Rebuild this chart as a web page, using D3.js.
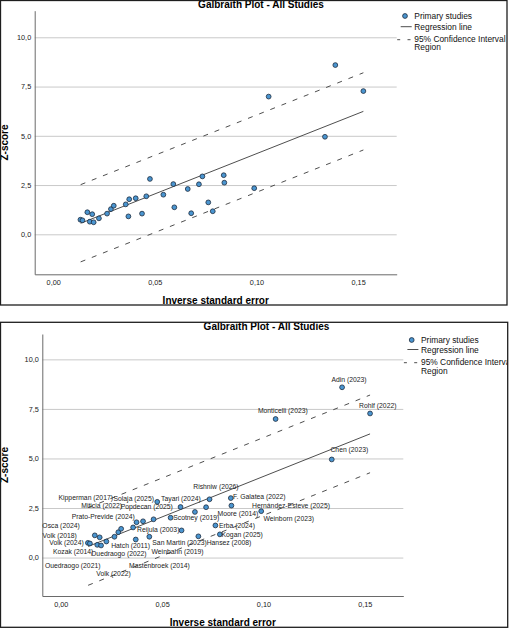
<!DOCTYPE html>
<html>
<head>
<meta charset="utf-8">
<script src="https://cdn.jsdelivr.net/npm/d3@7"></script>
<style>
  body { margin: 0; background: #fff; }
  svg text { font-family: "Liberation Sans", Arial, sans-serif; }
</style>
</head>
<body>
<div id="chart"></div>
<script>
// study names (labels in the lower panel)
var studies = [
  'Volk (2024)', 'Kozak (2014)', 'Volk (2018)', 'Ouedraogo (2021)', 'Osca (2024)',
  'Ouedraogo (2022)', 'Volk (2022)', 'Hatch (2011)', 'Prato-Previde (2024)', 'Miticia (2022)',
  'Reijula (2003)', 'Mastenbroek (2014)', 'Kipperman (2017)', '', 'San Martin (2023)',
  '', 'Solaja (2025)', 'Scotney (2019)', 'Popdecan (2025)', 'Weinbahn (2019)',
  'Moore (2014)', 'Hansez (2008)', 'Tayari (2024)', 'Rishniw (2026)', 'Erba (2024)',
  'Kogan (2025)', 'F. Galatea (2022)', 'Hernández-Esteve (2025)', 'Weinborn (2023)', 'Monticelli (2023)',
  'Chen (2023)', 'Adin (2023)', 'Rohlf (2022)'
];
// inverse standard error (x)
var invSE = [
  0.0134, 0.0144, 0.0168, 0.0180, 0.0192,
  0.0199, 0.0225, 0.0265, 0.0284, 0.0298,
  0.0357, 0.0370, 0.0374, 0.0406, 0.0437,
  0.0458, 0.0476, 0.0542, 0.0591, 0.0596,
  0.0662, 0.0679, 0.0717, 0.0734, 0.0763,
  0.0785, 0.0839, 0.0842, 0.0989, 0.1060,
  0.1337, 0.1388, 0.1526
];
// z-score (y)
var zScore = [
  0.74, 0.71, 1.12, 0.64, 1.02,
  0.61, 0.81, 1.05, 1.28, 1.45,
  1.52, 0.91, 1.78, 1.83, 1.05,
  1.93, 2.81, 2.01, 2.55, 1.37,
  2.30, 1.07, 2.54, 2.94, 1.62,
  1.17, 3.00, 2.62, 2.34, 6.99,
  4.95, 8.59, 7.27
];

// regression line and 95% CI limits at both ends of the data range
var lineX = [0.0135, 0.1526];
var regZ = [0.56, 6.24];
var upperZ = [2.52, 8.20];
var lowerZ = [-1.40, 4.28];

var xTicks = [0, 0.05, 0.10, 0.15];
var yTicks = [0, 2.5, 5, 7.5, 10];
var legendText = ['Primary studies', 'Regression line', '95% Confidence Interval', 'Region'];
var chartTitle = 'Galbraith Plot - All Studies';
var xTitle = 'Inverse standard error';
var yTitle = 'Z-score';

// where each label sits relative to its point (px), lower panel only
var labelOffset = [
  [-38.6, 0], [-37, 8.4], [-52.3, 0], [-52.3, 20.7], [-57.3, -11.7],
  [-10, 8.3], [-10, 32], [-3.3, 9.3], [-46.6, -15.7], [-39.9, -23],
  [4, 2], [-6.7, 25.7], [-78, -24.4], [0, 0], [3, 5.7],
  [0, 0], [-43.7, -3.4], [2.6, 0.3], [-59.8, 0], [-30, 21],
  [22.6, 1.6], [8.3, 6], [-45, -9], [-16.3, -12.7], [3.6, 0],
  [1.7, 0], [2.3, -1.6], [20.7, 0.3], [2.3, 7.3], [-17.7, -8.3],
  [-1.3, -10], [-10.6, -7.3], [-11, -8.3]
];

var xDomain = [-0.0091, 0.1690];

var locale = d3.formatLocale({decimal: ',', thousands: '.', grouping: [3], currency: ['', '']});
var fmtX = locale.format('.2f');
var fmtY = locale.format('.1f');

var svg = d3.select('#chart').append('svg')
    .attr('width', 510)
    .attr('height', 628);

var panels = [
  {id: 'top', box: [0.5, 0.5, 506.5, 304.5],
   plot: {l: 34.7, r: 396.7, t: 10.7, b: 274.3}, yDom: [-2.03, 11.35],
   title: [261, 7.5], yT: [7.6, 142.5], xT: [215.7, 304],
   legX: 414.3, legY: [16, 26.7, 38.7, 47.3], labels: false},
  {id: 'bottom', box: [0.5, 322.3, 507.2, 305],
   plot: {l: 42.3, r: 403.3, t: 334, b: 596}, yDom: [-1.94, 11.28],
   title: [266.5, 330.3], yT: [7.6, 465], xT: [222.8, 626.2],
   legX: 421, legY: [340, 349.5, 361.7, 371], labels: true}
];

panels.forEach(drawPanel);

function drawPanel(p) {
  var clipId = 'clip-' + p.id;
  svg.append('clipPath').attr('id', clipId)
    .append('rect')
    .attr('x', p.box[0]).attr('y', p.box[1])
    .attr('width', p.box[2]).attr('height', p.box[3]);

  var g = svg.append('g').attr('clip-path', 'url(#' + clipId + ')');

  var x = d3.scaleLinear().domain(xDomain).range([p.plot.l, p.plot.r]);
  var y = d3.scaleLinear().domain(p.yDom).range([p.plot.b, p.plot.t]);

  //horizontal gridlines
  g.append('g')
    .attr('transform', 'translate(' + p.plot.l + ',0)')
    .call(d3.axisRight(y).tickValues(yTicks).tickSize(p.plot.r - p.plot.l).tickFormat(''))
    .call(function(s) {
      s.select('.domain').remove();
      s.selectAll('line').attr('stroke', '#c9c9c9').attr('stroke-width', 1);
    });

  //y axis
  g.append('g')
    .attr('transform', 'translate(' + p.plot.l + ',0)')
    .call(d3.axisLeft(y).tickValues(yTicks).tickSize(0).tickPadding(3.5).tickFormat(fmtY))
    .call(styleAxis);

  //x axis
  g.append('g')
    .attr('transform', 'translate(0,' + p.plot.b + ')')
    .call(d3.axisBottom(x).tickValues(xTicks).tickSize(0).tickPadding(5.4).tickFormat(fmtX))
    .call(styleAxis);

  //CI limits and regression line
  var line = d3.line()
    .x(function(d) { return x(d[0]); })
    .y(function(d) { return y(d[1]); });

  [upperZ, lowerZ].forEach(function(ci) {
    g.append('path')
      .datum(d3.zip(lineX, ci))
      .attr('d', line)
      .attr('fill', 'none')
      .attr('stroke', '#3a3a3a')
      .attr('stroke-width', 0.9)
      .attr('stroke-dasharray', '5,7');
  });

  g.append('path')
    .datum(d3.zip(lineX, regZ))
    .attr('d', line)
    .attr('fill', 'none')
    .attr('stroke', '#3a3a3a')
    .attr('stroke-width', 0.9);

  //points
  var pts = d3.zip(invSE, zScore, studies, labelOffset);
  g.selectAll('circle.pt').data(pts).enter()
    .append('circle')
    .attr('class', 'pt')
    .attr('cx', function(d) { return x(d[0]); })
    .attr('cy', function(d) { return y(d[1]); })
    .attr('r', 2.4)
    .attr('fill', '#4a95d0')
    .attr('stroke', '#1c2b3d')
    .attr('stroke-width', 0.8);

  //study labels
  if (p.labels) {
    g.selectAll('text.lab').data(pts.filter(function(d) { return d[2] !== ''; })).enter()
      .append('text')
      .attr('class', 'lab')
      .attr('x', function(d) { return x(d[0]) + d[3][0]; })
      .attr('y', function(d) { return y(d[1]) + d[3][1] + 2.4; })
      .attr('font-size', 6.8)
      .attr('fill', '#222')
      .text(function(d) { return d[2]; });
  }

  //titles
  g.append('text')
    .attr('x', p.title[0]).attr('y', p.title[1])
    .attr('text-anchor', 'middle')
    .attr('font-size', 10).attr('font-weight', 'bold')
    .text(chartTitle);

  g.append('text')
    .attr('transform', 'translate(' + p.yT[0] + ',' + p.yT[1] + ')rotate(-90)')
    .attr('text-anchor', 'middle')
    .attr('font-size', 10).attr('font-weight', 'bold')
    .text(yTitle);

  g.append('text')
    .attr('x', p.xT[0]).attr('y', p.xT[1])
    .attr('text-anchor', 'middle')
    .attr('font-size', 10).attr('font-weight', 'bold')
    .text(xTitle);

  //legend
  var lx = p.legX;
  g.append('circle')
    .attr('cx', lx - 9.3).attr('cy', p.legY[0]).attr('r', 2.4)
    .attr('fill', '#4a95d0').attr('stroke', '#1c2b3d').attr('stroke-width', 0.8);
  g.append('line')
    .attr('x1', lx - 13.6).attr('x2', lx - 2.6)
    .attr('y1', p.legY[1]).attr('y2', p.legY[1])
    .attr('stroke', '#3a3a3a').attr('stroke-width', 0.9);
  g.append('line')
    .attr('x1', lx - 17.1).attr('x2', lx - 3.8)
    .attr('y1', p.legY[2] + 1).attr('y2', p.legY[2] + 1)
    .attr('stroke', '#3a3a3a').attr('stroke-width', 0.9)
    .attr('stroke-dasharray', '3,7.3');

  g.selectAll('text.leg').data(legendText).enter()
    .append('text')
    .attr('class', 'leg')
    .attr('x', lx)
    .attr('y', function(d, i) { return p.legY[i] + 3; })
    .attr('font-size', 8.4)
    .attr('fill', '#111')
    .text(function(d) { return d; });

  //panel border
  svg.append('rect')
    .attr('x', p.box[0]).attr('y', p.box[1])
    .attr('width', p.box[2]).attr('height', p.box[3])
    .attr('fill', 'none')
    .attr('stroke', '#1e1e1e')
    .attr('stroke-width', 1.3);
}

function styleAxis(s) {
  s.attr('font-family', null).attr('font-size', null);
  s.select('.domain').attr('stroke', '#6a6a6a').attr('stroke-width', 1);
  s.selectAll('text').attr('font-size', 7.3).attr('fill', '#222');
}
</script>
</body>
</html>
